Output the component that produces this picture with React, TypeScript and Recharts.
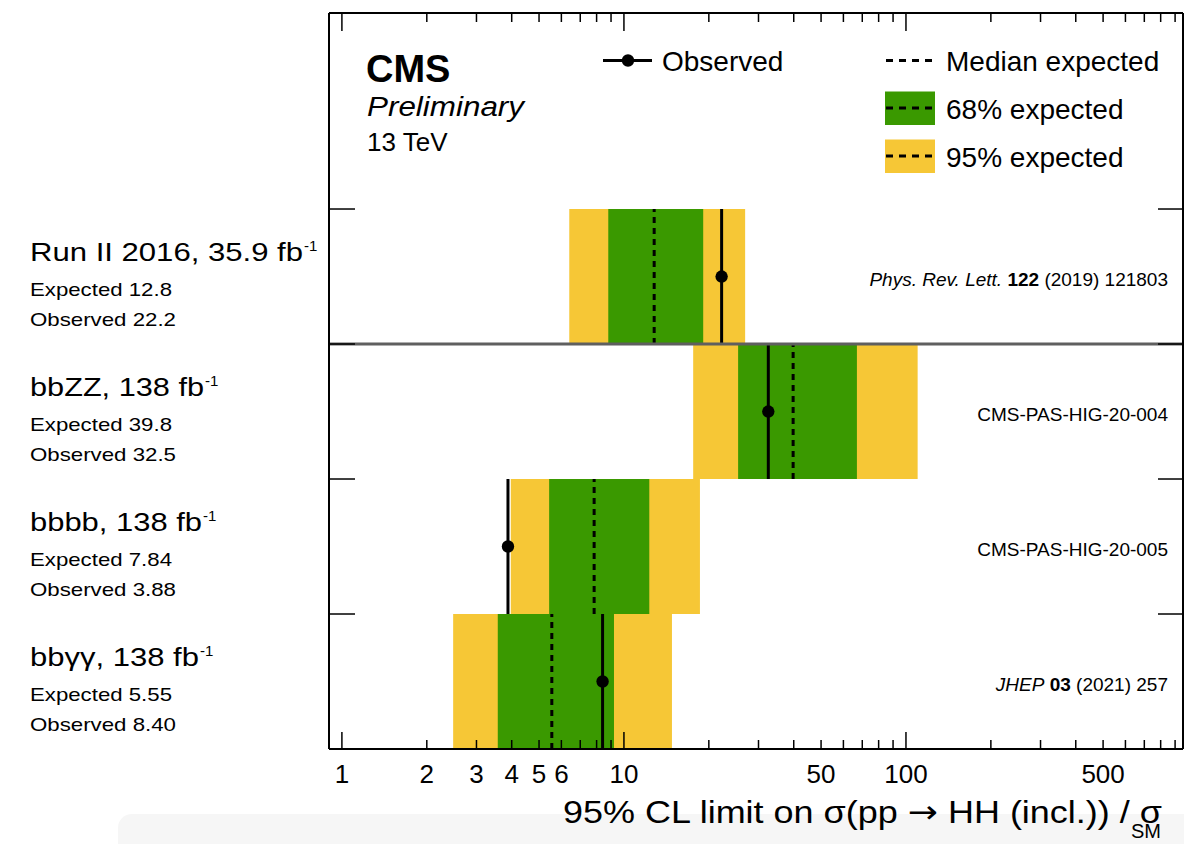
import { ComposedChart, ReferenceArea, ReferenceLine, Scatter, XAxis, YAxis } from 'recharts'

// one row per analysis, top to bottom
const channels = ['Run II 2016, 35.9 fb', 'bbZZ, 138 fb', 'bbbb, 138 fb', 'bbγγ, 138 fb']
const expectedLabels = ['12.8', '39.8', '7.84', '5.55']
const observedLabels = ['22.2', '32.5', '3.88', '8.40']

const medianExpected = [12.8, 39.8, 7.84, 5.55]
const observed = [22.2, 32.5, 3.88, 8.4]
const band68Low = [8.8, 25.4, 5.43, 3.57]
const band68High = [19.1, 67, 12.3, 9.22]
const band95Low = [6.4, 17.6, 3.97, 2.48]
const band95High = [26.9, 110, 18.6, 14.8]

const references = [
  [
    { text: 'Phys. Rev. Lett. ', style: 'italic' },
    { text: '122', style: 'bold' },
    { text: ' (2019) 121803', style: '' },
  ],
  [{ text: 'CMS-PAS-HIG-20-004', style: '' }],
  [{ text: 'CMS-PAS-HIG-20-005', style: '' }],
  [
    { text: 'JHEP', style: 'italic' },
    { text: ' 03', style: 'bold' },
    { text: ' (2021) 257', style: '' },
  ],
]

const xTicks = [
  1, 2, 3, 4, 5, 6, 7, 8, 9, 10, 20, 30, 40, 50, 60, 70, 80, 90, 100, 200, 300, 400, 500, 600, 700,
  800, 900,
]
const xTickLabels = [1, 2, 3, 4, 5, 6, 10, 50, 100, 500]
const rowTicks = [1, 2, 3, 4]

const FONT = '"Liberation Sans", Arial, Helvetica, sans-serif'
const TOP_SPACE = 1.452
const YELLOW = '#f6c736'
const GREEN = '#3a9900'

// stretched widths of the left-hand labels, as in the original figure
const titleWidths = [273, 174, 172, 169]

const rowBottom = (i: number) => channels.length - 1 - i

const observedPoints = observed.map((x, i) => ({ x, y: rowBottom(i) + 0.5 }))

function isDecade(v: number) {
  const l = Math.log10(v)
  return Math.abs(l - Math.round(l)) < 1e-9
}

function BottomTick(props: any) {
  const { x, y, payload } = props
  const v = payload.value as number
  const len = isDecade(v) ? 17 : 9
  return (
    <g>
      <line x1={x} x2={x} y1={y} y2={y - len} stroke="#000" strokeWidth={1.5} />
      {xTickLabels.includes(v) && (
        <text x={x} y={y + 34} textAnchor="middle" fontSize={26} fontFamily={FONT} fill="#000">
          {v}
        </text>
      )}
    </g>
  )
}

function TopTick(props: any) {
  const { x, y, payload } = props
  const len = isDecade(payload.value) ? 18 : 9
  return <line x1={x} x2={x} y1={y} y2={y + len} stroke="#000" strokeWidth={1.5} />
}

function LeftTick(props: any) {
  const { x, y } = props
  return <line x1={x} x2={x + 26} y1={y} y2={y} stroke="#000" strokeWidth={1.5} />
}

function RightTick(props: any) {
  const { x, y } = props
  return <line x1={x} x2={x - 25} y1={y} y2={y} stroke="#000" strokeWidth={1.5} />
}

function ObservedDot(props: any) {
  return <circle cx={props.cx} cy={props.cy} r={6.2} fill="#000" />
}

function Overlay() {
  return (
    <svg
      width={1184}
      height={844}
      style={{ position: 'absolute', left: 0, top: 0, pointerEvents: 'none' }}
      fontFamily={FONT}
    >
      {/* CMS label */}
      <text x={366} y={82} fontSize={38} fontWeight="bold">
        CMS
      </text>
      <text x={367} y={116} fontSize={27} fontStyle="italic" textLength={157} lengthAdjust="spacingAndGlyphs">
        Preliminary
      </text>
      <text x={367} y={151} fontSize={26}>
        13 TeV
      </text>

      {/* legend */}
      <line x1={603} x2={652} y1={60.5} y2={60.5} stroke="#000" strokeWidth={3} />
      <circle cx={628} cy={60.5} r={6.2} fill="#000" />
      <text x={662} y={71} fontSize={28}>
        Observed
      </text>
      <line x1={886} x2={932} y1={60.5} y2={60.5} stroke="#000" strokeWidth={3} strokeDasharray="7 6" />
      <text x={946} y={71} fontSize={28}>
        Median expected
      </text>
      <rect x={885} y={91.5} width={50} height={33.5} fill={GREEN} />
      <line x1={886} x2={932} y1={108} y2={108} stroke="#000" strokeWidth={3} strokeDasharray="7 6" />
      <text x={946} y={119} fontSize={28}>
        68% expected
      </text>
      <rect x={885} y={139.5} width={50} height={33.5} fill={YELLOW} />
      <line x1={886} x2={932} y1={156} y2={156} stroke="#000" strokeWidth={3} strokeDasharray="7 6" />
      <text x={946} y={167} fontSize={28}>
        95% expected
      </text>

      {/* left-hand labels */}
      {channels.map((name, i) => {
        const base = 261 + i * 135
        return (
          <g key={name}>
            <text x={30} y={base} fontSize={25} textLength={titleWidths[i]} lengthAdjust="spacingAndGlyphs">
              {name}
            </text>
            <text x={31 + titleWidths[i]} y={base - 10} fontSize={15}>
              -1
            </text>
            <text x={30} y={base + 35} fontSize={19} textLength={142} lengthAdjust="spacingAndGlyphs">
              Expected {expectedLabels[i]}
            </text>
            <text x={30} y={base + 65} fontSize={19} textLength={146} lengthAdjust="spacingAndGlyphs">
              Observed {observedLabels[i]}
            </text>
          </g>
        )
      })}

      {/* publication references */}
      {references.map((parts, i) => (
        <text key={i} x={1168} y={286 + i * 135} fontSize={19} textAnchor="end">
          {parts.map((p, j) => (
            <tspan
              key={j}
              fontStyle={p.style === 'italic' ? 'italic' : 'normal'}
              fontWeight={p.style === 'bold' ? 'bold' : 'normal'}
            >
              {p.text}
            </tspan>
          ))}
        </text>
      ))}

      {/* x-axis title */}
      <text x={563} y={823} fontSize={32} textLength={599} lengthAdjust="spacingAndGlyphs">
        95% CL limit on σ(pp <tspan fontFamily="DejaVu Sans">→</tspan> HH (incl.)) / σ
      </text>
      <text x={1131} y={838} fontSize={20}>
        SM
      </text>
    </svg>
  )
}

export default function App() {
  return (
    <div
      style={{
        position: 'absolute',
        left: 0,
        top: 0,
        width: 1184,
        height: 844,
        background: '#fff',
        overflow: 'hidden',
      }}
    >
      <div
        style={{
          position: 'absolute',
          left: 118,
          top: 814,
          width: 1100,
          height: 60,
          borderRadius: 14,
          background: '#f6f6f6',
        }}
      />
      <div style={{ position: 'absolute', left: 0, top: 0 }}>
        <ComposedChart width={1184} height={844} margin={{ top: 12, right: 0, bottom: 35, left: 328 }}>
          <XAxis
            xAxisId={0}
            dataKey="x"
            type="number"
            scale="log"
            domain={[0.9, 960]}
            allowDataOverflow
            ticks={xTicks}
            interval={0}
            height={60}
            tickSize={0}
            tickMargin={0}
            tickLine={false}
            tick={<BottomTick />}
            axisLine={{ stroke: '#000', strokeWidth: 2 }}
          />
          <XAxis
            xAxisId="top"
            orientation="top"
            dataKey="x"
            type="number"
            scale="log"
            domain={[0.9, 960]}
            allowDataOverflow
            ticks={xTicks}
            interval={0}
            height={1}
            tickSize={0}
            tickMargin={0}
            tickLine={false}
            tick={<TopTick />}
            axisLine={{ stroke: '#000', strokeWidth: 2 }}
          />
          <YAxis
            yAxisId={0}
            dataKey="y"
            type="number"
            domain={[0, channels.length + TOP_SPACE]}
            allowDataOverflow
            ticks={rowTicks}
            interval={0}
            width={1}
            tickSize={0}
            tickMargin={0}
            tickLine={false}
            tick={<LeftTick />}
            axisLine={{ stroke: '#000', strokeWidth: 2 }}
          />
          <YAxis
            yAxisId="right"
            orientation="right"
            dataKey="y"
            type="number"
            domain={[0, channels.length + TOP_SPACE]}
            allowDataOverflow
            ticks={rowTicks}
            interval={0}
            width={1}
            tickSize={0}
            tickMargin={0}
            tickLine={false}
            tick={<RightTick />}
            axisLine={{ stroke: '#000', strokeWidth: 2 }}
          />

          {channels.map((name, i) => (
            <ReferenceArea
              key={`y95-${name}`}
              x1={band95Low[i]}
              x2={band95High[i]}
              y1={rowBottom(i)}
              y2={rowBottom(i) + 1}
              fill={YELLOW}
              fillOpacity={1}
              stroke="none"
            />
          ))}
          {channels.map((name, i) => (
            <ReferenceArea
              key={`g68-${name}`}
              x1={band68Low[i]}
              x2={band68High[i]}
              y1={rowBottom(i)}
              y2={rowBottom(i) + 1}
              fill={GREEN}
              fillOpacity={1}
              stroke="none"
            />
          ))}
          {channels.map((name, i) => (
            <ReferenceLine
              key={`med-${name}`}
              segment={[
                { x: medianExpected[i], y: rowBottom(i) },
                { x: medianExpected[i], y: rowBottom(i) + 1 },
              ]}
              stroke="#000"
              strokeWidth={3}
              strokeDasharray="6 5"
            />
          ))}
          {channels.map((name, i) => (
            <ReferenceLine
              key={`obs-${name}`}
              segment={[
                { x: observed[i], y: rowBottom(i) },
                { x: observed[i], y: rowBottom(i) + 1 },
              ]}
              stroke="#000"
              strokeWidth={3}
            />
          ))}
          <ReferenceLine y={channels.length - 1} stroke="#5f5f5f" strokeWidth={3} />
          <Scatter data={observedPoints} fill="#000" shape={<ObservedDot />} isAnimationActive={false} />
        </ComposedChart>
      </div>
      <Overlay />
    </div>
  )
}
